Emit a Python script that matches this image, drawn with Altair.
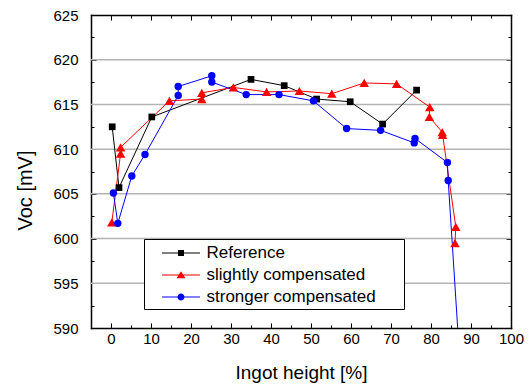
import altair as alt
import pandas as pd

# ---------------- data ----------------
series_names = ["Reference", "slightly compensated", "stronger compensated"]
series_colors = ["#000000", "#ff0000", "#0000ff"]
series_shapes = ["square", "triangle-up", "circle"]
series_sizes = [45, 90, 55]

ref_x = [0.3, 2.0, 10.2, 35.0, 43.3, 51.4, 59.8, 67.9, 76.4]
ref_y = [612.5, 605.7, 613.6, 617.8, 617.1, 615.6, 615.3, 612.8, 616.6]

slight_x = [0.2, 2.4, 2.4, 14.6, 22.7, 22.7, 30.6, 38.9, 47.1, 55.2, 63.3,
            71.4, 79.7, 79.6, 82.8, 82.9, 86.2, 86.0]
slight_y = [601.8, 609.5, 610.2, 615.4, 615.6, 616.3, 616.9, 616.4, 616.5,
            616.2, 617.4, 617.3, 614.7, 613.6, 611.9, 611.6, 601.3, 599.5]

strong_x = [0.6, 1.7, 5.2, 8.5, 16.8, 16.8, 25.2, 25.2, 33.8, 42.0, 50.6,
            58.9, 67.4, 75.8, 76.0, 84.1, 84.3, 87.1]
strong_y = [605.1, 601.7, 607.0, 609.4, 616.0, 617.0, 618.2, 617.5, 616.1,
            616.1, 615.4, 612.3, 612.1, 610.7, 611.2, 608.5, 606.5, 587.0]

x_major = [0, 10, 20, 30, 40, 50, 60, 70, 80, 90, 100]
x_minor = [5, 15, 25, 35, 45, 55, 65, 75, 85, 95]
y_major = [590, 595, 600, 605, 610, 615, 620, 625]
y_minor = [592.5, 597.5, 602.5, 607.5, 612.5, 617.5, 622.5]
y_grid = [595, 600, 605, 610, 615, 620]

x_title = "Ingot height [%]"
y_title = "Voc [mV]"

# legend symbols (filled): thin line with the marker in its middle
legend_paths = [
    "M-1.9,-0.06H1.9V0.06H-1.9ZM-0.3,-0.3H0.3V0.3H-0.3Z",
    "M-1.9,-0.06H1.9V0.06H-1.9ZM0,-0.38L0.45,0.32H-0.45Z",
    "M-1.9,-0.06H1.9V0.06H-1.9ZM0.35,0A0.35,0.35,0,1,1,-0.35,0A0.35,0.35,0,1,1,0.35,0Z",
]

rows = []
for name, xs, ys in zip(series_names, [ref_x, slight_x, strong_x],
                        [ref_y, slight_y, strong_y]):
    for i, (xv, yv) in enumerate(zip(xs, ys)):
        rows.append({"series": name, "x": xv, "y": yv, "idx": i})
df = pd.DataFrame(rows)
grid_df = pd.DataFrame({"v": y_grid})

FONT = "Liberation Sans"
W, H = 420, 313
x_scale = alt.Scale(domain=[-5, 100], nice=False, zero=False)
y_scale = alt.Scale(domain=[590, 625], nice=False, zero=False)

BLANK = "\u2800"   # blank (non-trimmed) padding so the legend box gets its right margin
legend = alt.Legend(
    orient="none", legendX=53, legendY=224, title=None,
    padding=4, symbolOffset=23, labelOffset=15.5, rowPadding=4,
    symbolSize=400, symbolStrokeWidth=0, symbolOpacity=1,
    labelFont=FONT, labelFontSize=17, labelColor="black",
    labelLimit=400, labelExpr="datum.label + '" + BLANK * 2 + "'",
    fillColor="white", strokeColor="black",
)
color = alt.Color("series:N", scale=alt.Scale(domain=series_names, range=series_colors), legend=legend)


def tick_axis(orient, offset, values, size, domain=False):
    """An unlabelled axis used only for (inward) ticks / frame lines."""
    kw = dict(orient=orient, offset=offset, values=values, labels=False, grid=False,
              tickColor="black", tickWidth=1, tickSize=size, domain=domain)
    if domain:
        kw.update(domainColor="black", domainWidth=1.5, domainCap="square")
    return alt.Axis(**kw)


def xy(xaxis, yaxis):
    return (alt.X("x:Q", scale=x_scale, title=None, axis=xaxis),
            alt.Y("y:Q", scale=y_scale, title=None, axis=yaxis))


# layer 0: horizontal grid lines
grid = alt.Chart(grid_df).mark_rule(color="#b4b4b4", strokeWidth=1.5).encode(
    y=alt.Y("v:Q", scale=y_scale, axis=None),
)

# layer 1: invisible points carrying the legend and the top / right frame (major ticks)
lx, ly = xy(tick_axis("bottom", -H, x_major, 5, domain=True),
            tick_axis("left", -W, y_major, 5, domain=True))
legend_layer = alt.Chart(df).mark_point(filled=True, opacity=0).encode(
    x=lx, y=ly, color=color,
    shape=alt.Shape("series:N", scale=alt.Scale(domain=series_names, range=legend_paths), legend=legend),
)

# layer 2: lines, with labelled bottom / left axes
lines = alt.Chart(df).mark_line(strokeWidth=1, clip=True).encode(
    x=alt.X("x:Q", scale=x_scale, axis=alt.Axis(
        orient="bottom", values=x_major, ticks=False, tickSize=0,
        labelPadding=3, labelFontSize=15, labelFont=FONT, labelColor="black",
        labelOverlap=False, labelFlush=False, grid=False,
        domainColor="black", domainWidth=1.5, domainCap="square",
        title=x_title, titleFont=FONT, titleFontSize=19, titleFontWeight="normal",
        titleColor="black", titleX=210, titleY=50, titleAlign="center",
        titleBaseline="alphabetic")),
    y=alt.Y("y:Q", scale=y_scale, axis=alt.Axis(
        orient="left", values=y_major, ticks=False, tickSize=0,
        labelPadding=13, labelFontSize=15, labelFont=FONT, labelColor="black",
        labelOverlap=False, labelFlush=False, grid=False,
        domainColor="black", domainWidth=1.5, domainCap="square",
        title=y_title, titleFont=FONT, titleFontSize=20, titleFontWeight="normal",
        titleColor="black", titleAngle=270, titleX=-60, titleY=175,
        titleAlign="center", titleBaseline="alphabetic")),
    color=color,
    order=alt.Order("idx:Q"),
)

# layers 3-5: markers of each series, each carrying one set of inward ticks
tick_sets = [
    (tick_axis("top", -H, x_major, 5), tick_axis("right", -W, y_major, 5)),     # bottom / left major
    (tick_axis("top", -H, x_minor, 3), tick_axis("right", -W, y_minor, 3)),     # bottom / left minor
    (tick_axis("bottom", -H, x_minor, 3), tick_axis("left", -W, y_minor, 3)),   # top / right minor
]
marker_layers = []
for (name, shp, sz), (xa, ya) in zip(zip(series_names, series_shapes, series_sizes), tick_sets):
    mx, my = xy(xa, ya)
    marker_layers.append(
        alt.Chart(df).transform_filter(alt.datum.series == name)
        .mark_point(filled=True, opacity=1, clip=True, shape=shp, size=sz)
        .encode(x=mx, y=my, color=color)
    )

chart = alt.layer(grid, legend_layer, lines, *marker_layers).resolve_axis(
    x="independent", y="independent"
).properties(
    width=W, height=H,
    autosize=alt.AutoSizeParams(type="none"),
    padding={"left": 91, "top": 15, "right": 21, "bottom": 57},
    background="white",
).configure_view(strokeWidth=0)

chart.save("out.html", embed_options={"renderer": "svg", "actions": False})
